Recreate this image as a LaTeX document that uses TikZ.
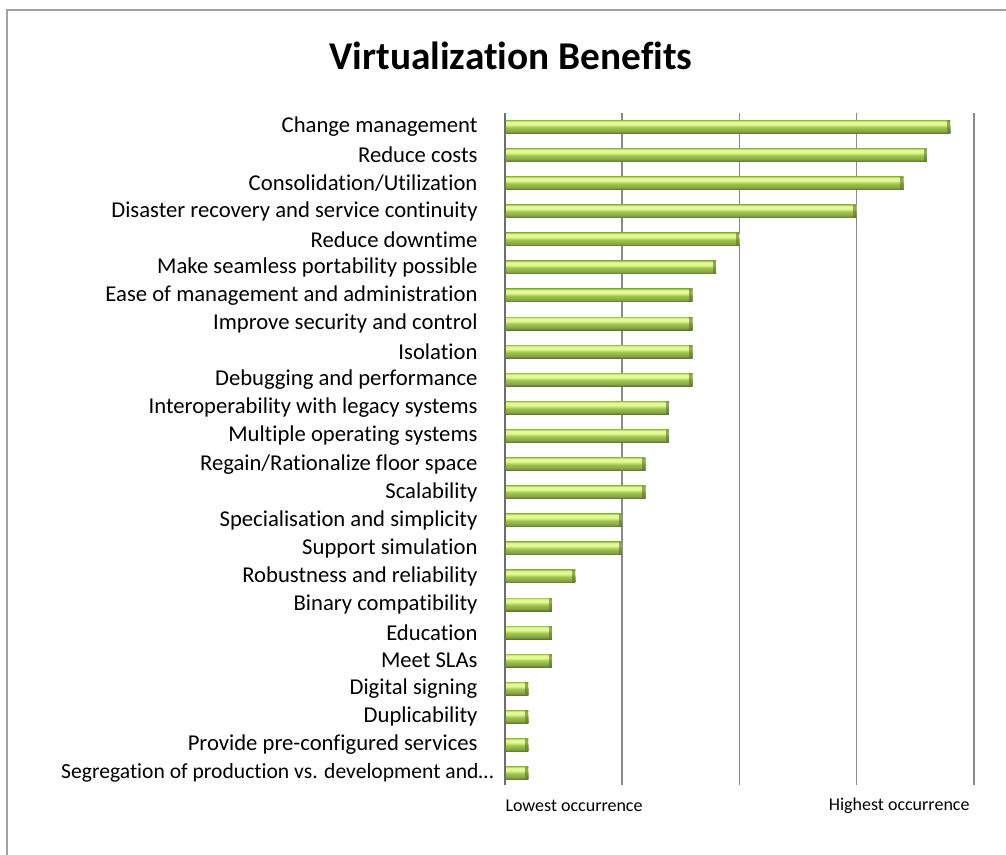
\documentclass[tikz,border=0pt]{standalone}
\usepackage{fontspec}
\setmainfont{Carlito}[Ligatures=NoCommon]

\definecolor{gridgray}{RGB}{138,138,138}
\definecolor{framegray}{RGB}{160,160,160}
\definecolor{bardark}{RGB}{92,118,38}
\definecolor{barmid}{RGB}{158,196,78}
\definecolor{barlight}{RGB}{228,248,150}
\definecolor{baredge}{RGB}{168,202,92}
\pgfdeclareverticalshading{barshade}{100bp}{color(0bp)=(bardark); color(25bp)=(bardark); color(34bp)=(barmid!65!bardark); color(48bp)=(barmid); color(60bp)=(barlight); color(70bp)=(barlight); color(75bp)=(baredge); color(100bp)=(baredge)}

\tikzset{every picture/.style={line width=0.75pt}}
\tikzset{
  benefitbar/.style={shading=barshade, path picture={
    \fill[bardark,opacity=0.6] (path picture bounding box.north east) -- (path picture bounding box.south east)
      -- ([xshift=-2.5pt]path picture bounding box.south east) -- ([xshift=-2.5pt]path picture bounding box.north east) -- cycle;}},
  grid line/.style={draw=gridgray, line width=1.1pt},
  benefit/.style={anchor=east, inner sep=0pt, font=\fontsize{17}{20}\selectfont},
  scale label/.style={inner sep=0pt, font=\fontsize{13.5}{16}\selectfont},
}

\begin{document}
\begin{tikzpicture}[x=0.75pt,y=0.75pt,yscale=-1,xscale=1]
	\useasboundingbox (0,0) rectangle (1006,855);

	%Frame
	\draw [framegray, line width=1.5pt] (7,855) -- (7,10) -- (1006,10) ;

	% Title
	\node [font=\bfseries\fontsize{29.5}{34}\selectfont] (title) at (511,56) {Virtualization Benefits};

	%Grid lines
	\draw [grid line] (622.2,113) -- (622.2,785) ;
	\draw [grid line] (739.4,113) -- (739.4,785) ;
	\draw [grid line] (856.6,113) -- (856.6,785) ;
	\draw [grid line] (973.8,113) -- (973.8,785) ;

	%Bars
	\shade [benefitbar] (505,120.5) rectangle (950.4,133.5) ;
	\shade [benefitbar] (505,148.6) rectangle (926.9,161.6) ;
	\shade [benefitbar] (505,176.7) rectangle (903.5,189.7) ;
	\shade [benefitbar] (505,204.8) rectangle (856.6,217.8) ;
	\shade [benefitbar] (505,232.9) rectangle (739.4,245.9) ;
	\shade [benefitbar] (505,261.0) rectangle (716.0,274.0) ;
	\shade [benefitbar] (505,289.0) rectangle (692.5,302.0) ;
	\shade [benefitbar] (505,317.1) rectangle (692.5,330.1) ;
	\shade [benefitbar] (505,345.2) rectangle (692.5,358.2) ;
	\shade [benefitbar] (505,373.3) rectangle (692.5,386.3) ;
	\shade [benefitbar] (505,401.4) rectangle (669.1,414.4) ;
	\shade [benefitbar] (505,429.5) rectangle (669.1,442.5) ;
	\shade [benefitbar] (505,457.6) rectangle (645.6,470.6) ;
	\shade [benefitbar] (505,485.7) rectangle (645.6,498.7) ;
	\shade [benefitbar] (505,513.8) rectangle (622.2,526.8) ;
	\shade [benefitbar] (505,541.9) rectangle (622.2,554.9) ;
	\shade [benefitbar] (505,569.9) rectangle (575.3,582.9) ;
	\shade [benefitbar] (505,598.0) rectangle (551.9,611.0) ;
	\shade [benefitbar] (505,626.1) rectangle (551.9,639.1) ;
	\shade [benefitbar] (505,654.2) rectangle (551.9,667.2) ;
	\shade [benefitbar] (505,682.3) rectangle (528.4,695.3) ;
	\shade [benefitbar] (505,710.4) rectangle (528.4,723.4) ;
	\shade [benefitbar] (505,738.5) rectangle (528.4,751.5) ;
	\shade [benefitbar] (505,766.6) rectangle (528.4,779.6) ;

	%Value axis
	\draw [grid line, draw=gridgray!80!black] (505,113) -- (505,785) ;

	% Category labels
	\node [benefit] (change) at (478,127.0) {Change management};
	\node [benefit] (costs) at (478,155.1) {Reduce costs};
	\node [benefit] (consolidation) at (478,183.2) {Consolidation/Utilization};
	\node [benefit] (disaster) at (478,211.3) {Disaster recovery and service continuity};
	\node [benefit] (downtime) at (478,239.4) {Reduce downtime};
	\node [benefit] (portability) at (478,267.5) {Make seamless portability possible};
	\node [benefit] (ease) at (478,295.5) {Ease of management and administration};
	\node [benefit] (security) at (478,323.6) {Improve security and control};
	\node [benefit] (isolation) at (478,351.7) {Isolation};
	\node [benefit] (debugging) at (478,379.8) {Debugging and performance};
	\node [benefit] (legacy) at (478,407.9) {Interoperability with legacy systems};
	\node [benefit] (multios) at (478,436.0) {Multiple operating systems};
	\node [benefit] (floor) at (478,464.1) {Regain/Rationalize floor space};
	\node [benefit] (scalability) at (478,492.2) {Scalability};
	\node [benefit] (simplicity) at (478,520.3) {Specialisation and simplicity};
	\node [benefit] (simulation) at (478,548.4) {Support simulation};
	\node [benefit] (robustness) at (478,576.4) {Robustness and reliability};
	\node [benefit] (binary) at (478,604.5) {Binary compatibility};
	\node [benefit] (education) at (478,632.6) {Education};
	\node [benefit] (slas) at (478,660.7) {Meet SLAs};
	\node [benefit] (signing) at (478,688.8) {Digital signing};
	\node [benefit] (duplicability) at (478,716.9) {Duplicability};
	\node [benefit] (preconf) at (478,745.0) {Provide pre-configured services};
	\node [benefit, font=\fontsize{16.2}{20}\selectfont] (segregation) at (494,773.1) {Segregation of production vs. development and\ldots};

	% Axis end labels
	\node [scale label, anchor=west] (lowest) at (505,806) {Lowest occurrence};
	\node [scale label, anchor=east] (highest) at (970,806) {Highest occurrence};

\end{tikzpicture}
\end{document}
